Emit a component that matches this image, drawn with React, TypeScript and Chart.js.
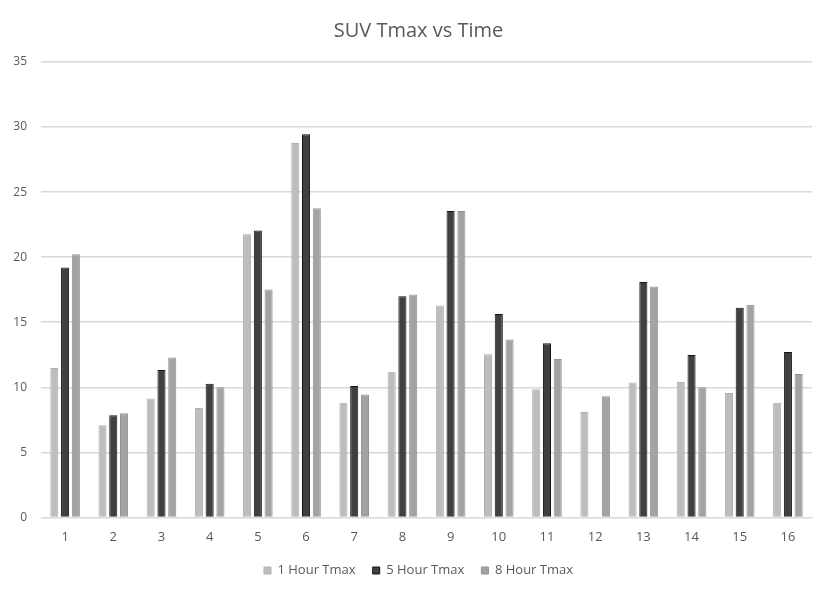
import React, { useEffect, useRef } from "react";
import { Chart, registerables } from "chart.js";

Chart.register(...registerables);

const categories = ["1","2","3","4","5","6","7","8","9","10","11","12","13","14","15","16"];
const oneHour = [11.48, 7.08, 9.13, 8.41, 21.76, 28.77, 8.82, 11.2, 16.29, 12.53, 9.85, 8.1, 10.36, 10.41, 9.57, 8.82];
const fiveHour = [19.2, 7.85, 11.33, 10.28, 22.05, 29.44, 10.1, 17.0, 23.55, 15.63, 13.38, null, 18.1, 12.48, 16.11, 12.71];
const eightHour = [20.23, 8.0, 12.28, 10.0, 17.52, 23.76, 9.44, 17.14, 23.55, 13.68, 12.17, 9.31, 17.75, 10.0, 16.34, 11.02];
const seriesNames = ["1 Hour Tmax", "5 Hour Tmax", "8 Hour Tmax"];
const yTicks = [0, 5, 10, 15, 20, 25, 30, 35];

const FONT = "'Open Sans', 'Noto Sans', sans-serif";
const TEXT = "#595959";

export default function App() {
  const ref = useRef<HTMLCanvasElement | null>(null);
  useEffect(() => {
    if (!ref.current) return;
    const defaultGen = (Chart.defaults.plugins.legend.labels as any).generateLabels;
    const widenYLabelArea = {
      id: "widenYLabelArea",
      afterLayout(chart: any) {
        const y = chart.scales.y;
        if (y) {
          y.width = y.right;
          y.left = 0;
        }
      },
    };
    const chart = new Chart(ref.current, {
      type: "bar",
      data: {
        labels: categories,
        datasets: [
          { label: seriesNames[0], data: oneHour, backgroundColor: "#bdbdbd", borderColor: "#b0b0b0", borderWidth: 1 },
          { label: seriesNames[1], data: fiveHour, backgroundColor: "#404040", borderColor: "#141414", borderWidth: 1 },
          { label: seriesNames[2], data: eightHour, backgroundColor: "#a3a3a3", borderColor: "#939393", borderWidth: 1 },
        ],
      },
      options: {
        animation: false,
        responsive: false,
        maintainAspectRatio: false,
        layout: { padding: { left: 25, right: 17, top: 0, bottom: 5 } },
        datasets: { bar: { categoryPercentage: 0.67, barPercentage: 0.75 } },
        plugins: {
          title: {
            display: true,
            text: "SUV Tmax vs Time",
            color: TEXT,
            font: { family: FONT, size: 20, weight: "normal" },
            padding: { top: 19, bottom: 19 },
          },
          legend: {
            position: "bottom",
            labels: {
              color: TEXT,
              font: { family: FONT, size: 13 },
              boxWidth: 7,
              boxHeight: 7,
              padding: 7,
              generateLabels: (c: any) => {
                const items = defaultGen(c);
                return items.map((it: any, i: number) => ({
                  ...it,
                  text: i < items.length - 1 ? it.text + "   " : it.text,
                }));
              },
            },
          },
          tooltip: { enabled: false },
        },
        scales: {
          x: {
            grid: { display: false, drawTicks: false },
            border: { display: true, color: "#d9d9d9", width: 1 },
            ticks: { color: TEXT, font: { family: FONT, size: 13 }, padding: 12 },
          },
          y: {
            min: 0,
            max: 35,
            afterFit: (s: any) => { s.width = 16; },
            afterBuildTicks: (s: any) => { s.ticks = yTicks.map((v) => ({ value: v })); },
            grid: { color: "#d9d9d9", lineWidth: 1.5, drawTicks: false },
            border: { display: false },
            ticks: { color: TEXT, font: { family: FONT, size: 12 }, padding: 14 },
          },
        },
      },
      plugins: [widenYLabelArea],
    });
    return () => chart.destroy();
  }, []);
  return (
    <div style={{ position: "absolute", left: 0, top: 0, width: 829, height: 592, background: "#fff" }}>
      <canvas ref={ref} width={829} height={592} />
    </div>
  );
}
